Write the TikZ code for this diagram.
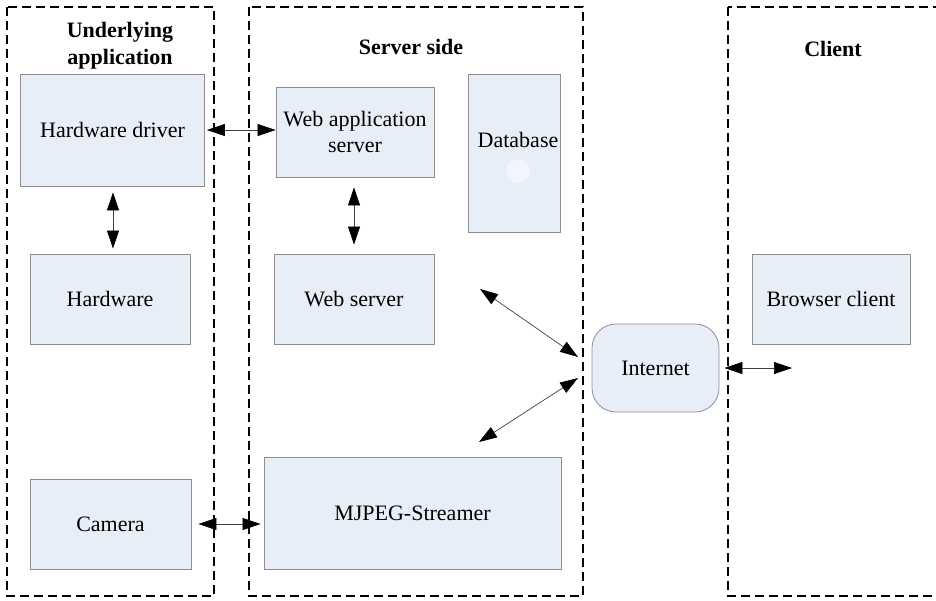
\documentclass[tikz,border=0pt]{standalone}
\usepackage{fontspec}
\setmainfont{Liberation Serif}
\usetikzlibrary{arrows.meta}
\definecolor{boxfill}{HTML}{E8EEF8}
\definecolor{boxline}{HTML}{8E8E8E}
\tikzset{
  blk/.style={draw=boxline, fill=boxfill, line width=0.8pt, align=center,
    inner sep=0pt, font=\fontsize{22}{26}\selectfont},
  zone/.style={line width=2.8pt, dash pattern=on 9pt off 5pt},
  ttl/.style={font=\fontsize{22}{27}\selectfont\bfseries, align=center},
  dub/.style={{Triangle[length=18pt,width=12pt,color=black]}-{Triangle[length=18pt,width=12pt,color=black]},
    line width=0.7pt, draw=black!75}
}
\begin{document}
\begin{tikzpicture}[x=1pt,y=-1pt]
            \useasboundingbox (0,0) rectangle (936,600);
            \draw[zone] (7,7) rectangle (214,596);
            \draw[zone] (249,7) rectangle (583,596);
            \begin{scope}
                \clip (700,0) rectangle (936,600);
                \draw[zone] (728,7) rectangle (960,596);
            \end{scope}
            \node[ttl] (tund) at (120,46) {Underlying\\application};
            \node[ttl] (tsrv) at (411,47) {Server side};
            \node[ttl] (tcli) at (833,49) {Client};
            \node[blk, minimum width=184pt, minimum height=112pt] (drv) at (112.5,130) {Hardware driver};
            \node[blk, minimum width=160pt, minimum height=90pt] (hw) at (110,299) {Hardware};
            \node[blk, minimum width=161pt, minimum height=90pt] (cam) at (110.5,524) {Camera};
            \node[blk, minimum width=158pt, minimum height=90pt] (app) at (355,132) {Web application\\server};
            \node[blk, minimum width=92pt, minimum height=158pt] (db) at (514,153) {};
            \node[font=\fontsize{22}{26}\selectfont] (dbt) at (518,140) {Database};
            \fill[white, opacity=0.45] (518,171) circle (12pt);
            \node[blk, minimum width=160pt, minimum height=90pt] (web) at (354,299) {Web server};
            \node[blk, minimum width=297pt, minimum height=112pt] (mjp) at (412.5,513) {MJPEG-Streamer};
            \node[blk, rounded corners=24pt, minimum width=127pt, minimum height=88pt] (inet) at (655.5,368) {Internet};
            \node[blk, minimum width=158pt, minimum height=90pt] (brw) at (831,299) {Browser client};
            \coordinate (w1) at (480,289);
            \coordinate (i1) at (578,357);
            \coordinate (i2) at (578,378);
            \coordinate (m1) at (479,442);
            \coordinate (c1) at (792,368);
            \draw[dub, shorten <=2pt] (drv.east) -- (drv.east -| app.west);
            \draw[dub, shorten <=6pt, shorten >=5pt] (drv.south -| 113,0) -- (hw.north -| 113,0);
            \draw[dub, shorten <=10pt, shorten >=9pt] (app.south -| web.south) -- (web.north);
            \draw[dub] (w1) -- (i1);
            \draw[dub] (i2) -- (m1);
            \draw[dub, shorten <=5pt] (inet.east) -- (c1);
            \draw[dub, shorten <=7pt, shorten >=3pt] (cam.east) -- (cam.east -| mjp.west);
        \end{tikzpicture}
\end{document}
